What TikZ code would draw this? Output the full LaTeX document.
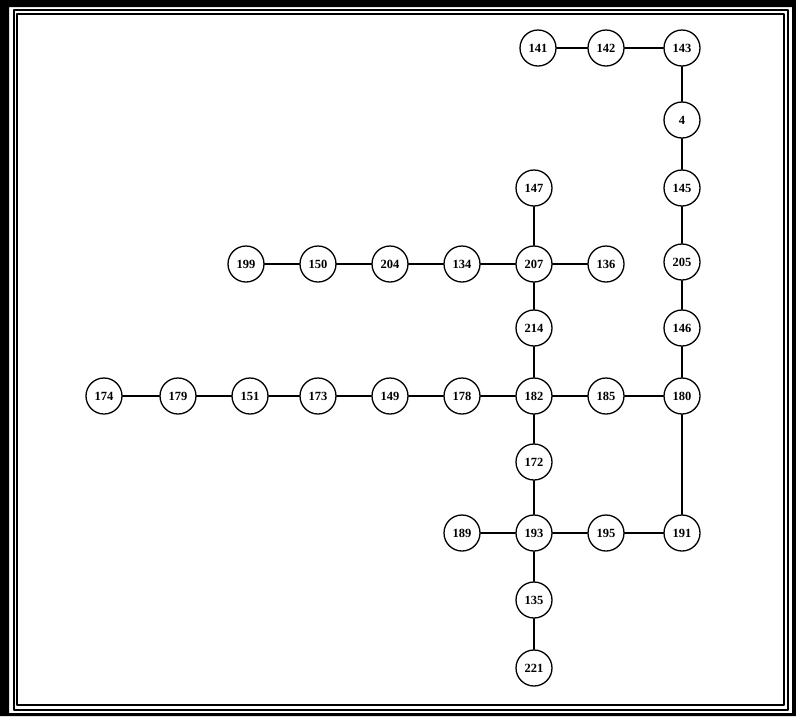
\documentclass[tikz,border=0pt]{standalone}
\usepackage{fontspec}
\setmainfont{Liberation Serif}

\begin{document}
\begin{tikzpicture}[
  x=1pt,
  y=-1pt,
  line cap=round,
  line join=round,
  vertex/.style={draw,circle,line width=1.3pt,minimum size=36pt,inner sep=0pt,
    font=\fontsize{12.5}{12.5}\selectfont\bfseries},
  edge/.style={line width=1.1pt},
  heavy/.style={line width=2pt}
]
  \useasboundingbox (0,0) rectangle (796,716);

  % Rahmen
  \fill[black,even odd rule] (0,0) rectangle (796,716) (9,7) rectangle (792,713);
  \draw[line width=1.3pt] (14,10) rectangle (788,710);
  \draw[line width=2.3pt] (16.7,14.3) rectangle (784,705.3);

  % Knoten oben rechts
  \node[vertex] (n141) at (538,48) {141};
  \node[vertex] (n142) at (606,48) {142};
  \node[vertex] (n143) at (682,48) {143};
  \node[vertex] (n4)   at (682,120) {4};
  \node[vertex] (n145) at (682,188) {145};
  \node[vertex] (n205) at (682,262) {205};
  \node[vertex] (n146) at (682,328) {146};
  \node[vertex] (n180) at (682,396) {180};
  \node[vertex] (n191) at (682,533) {191};

  % Mittlere Spalte
  \node[vertex] (n147) at (534,188) {147};
  \node[vertex] (n207) at (534,264) {207};
  \node[vertex] (n136) at (606,264) {136};
  \node[vertex] (n214) at (534,328) {214};
  \node[vertex] (n182) at (534,396) {182};
  \node[vertex] (n185) at (606,396) {185};
  \node[vertex] (n172) at (534,462) {172};
  \node[vertex] (n189) at (462,533) {189};
  \node[vertex] (n193) at (534,533) {193};
  \node[vertex] (n195) at (606,533) {195};
  \node[vertex] (n135) at (534,600) {135};
  \node[vertex] (n221) at (534,668) {221};

  % Obere Reihe links
  \node[vertex] (n199) at (246,264) {199};
  \node[vertex] (n150) at (318,264) {150};
  \node[vertex] (n204) at (390,264) {204};
  \node[vertex] (n134) at (462,264) {134};

  % Untere Reihe links
  \node[vertex] (n174) at (104,396) {174};
  \node[vertex] (n179) at (178,396) {179};
  \node[vertex] (n151) at (250,396) {151};
  \node[vertex] (n173) at (318,396) {173};
  \node[vertex] (n149) at (390,396) {149};
  \node[vertex] (n178) at (462,396) {178};

  % Kanten
  \draw[edge] (n141) -- (n142) -- (n143) -- (n4) -- (n145) -- (n205)
    -- (n146) -- (n180) -- (n191);
  \draw[heavy] (n191) -- (n195);
  \draw[edge] (n195) -- (n193);
  \draw[edge] (n189) -- (n193) -- (n135) -- (n221);
  \draw[edge] (n147) -- (n207) -- (n214) -- (n182) -- (n172) -- (n193);
  \draw[edge] (n207) -- (n136);
  \draw[edge] (n199) -- (n150);
  \draw[heavy] (n150) -- (n204);
  \draw[edge] (n204) -- (n134) -- (n207);
  \draw[edge] (n174) -- (n179);
  \draw[heavy] (n179) -- (n151);
  \draw[edge] (n151) -- (n173) -- (n149) -- (n178) -- (n182);
  \draw[heavy] (n182) -- (n185);
  \draw[edge] (n185) -- (n180);
\end{tikzpicture}
\end{document}
